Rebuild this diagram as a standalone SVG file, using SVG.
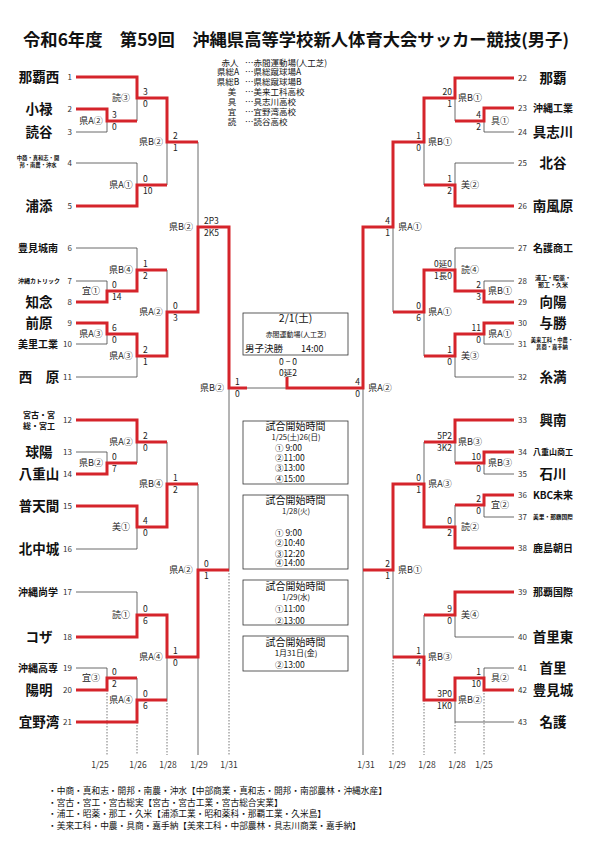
<svg xmlns="http://www.w3.org/2000/svg" width="595" height="841" viewBox="0 0 595 841">
<style>
text{font-family:"Noto Sans CJK JP","Noto Sans",sans-serif;fill:#111}
.th{fill:none;stroke:#444;stroke-width:0.8}
.rd{fill:none;stroke:#d5242b;stroke-width:3;stroke-linejoin:miter}
.dt{fill:none;stroke:#555;stroke-width:0.8;stroke-dasharray:1.5 1.5}
.nb{font-size:13.5px;font-weight:700;text-anchor:middle}
.ns{font-weight:700;text-anchor:middle}
.nl{font-size:8px;text-anchor:end;fill:#333}
.nr{font-size:8px;fill:#333}
.lb{font-size:9px;text-anchor:middle;fill:#222}
.sl{font-size:8.5px;fill:#222}
.sr{font-size:8.5px;text-anchor:end;fill:#222}
.bx{fill:none;stroke:#333;stroke-width:0.8}
.lg{font-size:8.5px}
.dl{font-size:8.5px;text-anchor:middle;fill:#333}
.nt{font-size:8.7px}
.bt{text-anchor:middle}
.tm{font-size:8.5px}
</style>
<rect width="595" height="841" fill="#fff"/>
<text x="23" y="45.5" font-size="17" font-weight="700" textLength="546" lengthAdjust="spacingAndGlyphs">令和6年度　第59回　沖縄県高等学校新人体育大会サッカー競技(男子)</text>

<g id="legend" class="lg">
<text x="230" y="65.5" text-anchor="middle">赤人</text><text x="245" y="65.5">…赤間運動場(人工芝)</text>
<text x="228" y="75" text-anchor="middle">県総A</text><text x="245" y="75">…県総蹴球場A</text>
<text x="228" y="85" text-anchor="middle">県総B</text><text x="245" y="85">…県総蹴球場B</text>
<text x="232" y="95" text-anchor="middle" fill="#444">美</text><text x="245" y="95" fill="#444">…美来工科高校</text>
<text x="232" y="105" text-anchor="middle" fill="#444">具</text><text x="245" y="105" fill="#444">…具志川高校</text>
<text x="232" y="115" text-anchor="middle" fill="#444">宜</text><text x="245" y="115" fill="#444">…宜野湾高校</text>
<text x="232" y="125" text-anchor="middle" fill="#444">読</text><text x="245" y="125" fill="#444">…読谷高校</text>
</g>

<g id="connectors">
<path class="th" d="M76 77H137M76 109H107M76 132H107M76 163H137M76 206H137M76 248H137M76 281H107M76 302H107M76 323H107M76 344H107M76 377H137M76 420H137M76 452H107M76 474H107M76 506H137M76 549H137M76 592H137M76 637H137M76 668H107M76 690H107M76 722H137
M107 109V132M107 121H137M137 77V121M137 98H167M137 163V206M137 185H167M167 98V185M167 142H198
M107 281V302M107 291H137M137 248V291M137 270H167M107 323V344M107 334H137M137 334V377M137 356H167M167 270V356M167 312H198M198 142V312M198 227H229
M107 452V474M107 463H137M137 420V463M137 442H167M137 506V549M137 527H167M167 442V527M167 484H198
M137 592V637M137 615H167M107 668V690M107 678H137M137 678V722M137 700H167M167 615V700M167 657H198M198 484V657M198 570H229
M229 227V570M229 388H363M198 657V755"/>
<path class="th" d="M514 78H455M514 108H484M514 132H484M514 163H455M514 206H455M514 248H455M514 281H484M514 302H484M514 323H484M514 344H484M514 377H455M514 420H455M514 452H484M514 474H484M514 495H484M514 517H484M514 548H455M514 592H455M514 637H455M514 668H484M514 690H484M514 722H455
M484 108V132M484 121H455M455 78V121M455 98H424M455 163V206M455 185H424M424 98V185M424 142H393
M484 281V302M484 291H455M455 248V291M455 270H424M484 323V344M484 334H455M455 334V377M455 356H424M424 270V356M424 312H393M393 142V312M393 227H363
M484 452V474M484 463H455M455 420V463M455 442H424M484 495V517M484 505H455M455 505V548M455 527H424M424 442V527M424 484H393
M455 592V637M455 615H424M484 668V690M484 678H455M455 678V722M455 700H424M424 615V700M424 657H393M393 484V657M393 570H363
M363 227V570M363 570V755"/>
<path class="dt" d="M107 690V755M137 722V755M167 700V755M229 570V755M393 657V755M424 700V755M455 722V755M484 690V755"/>
<path class="rd" d="M76 77H137V98H167V142H198
M76 109H107V121H137
M76 206H137V185H167
M76 302H107V291H137V270H167
M76 323H107V334H137V356H167V312H198V227H229V388H247
M76 420H137V442H167
M76 474H107V463H137
M76 506H137V527H167V484H198
M76 637H137V615H167V657H198V570H229
M76 690H107V678H137
M76 722H137V700H167"/>
<path class="rd" d="M514 78H455V98H424V142H393V227H363V388H287V377
M514 108H484V121H455
M514 206H455V185H424
M514 302H484V291H455V270H424V312H393
M514 323H484V334H455V356H424
M514 420H455V442H424
M514 452H484V463H455
M514 495H484V505H455
M514 548H455V527H424V484H393V570H363
M514 592H455V615H424
M514 690H484V678H455V700H424V657H393"/>
</g>

<g id="teams-left">
<g id="team-1"><text class="nb" x="39" y="82">那覇西</text><text class="nl" x="72" y="80">1</text></g>
<g id="team-2"><text class="nb" x="39" y="114">小禄</text><text class="nl" x="72" y="112">2</text></g>
<g id="team-3"><text class="nb" x="39" y="137">読谷</text><text class="nl" x="72" y="135">3</text></g>
<g id="team-4"><text class="ns" x="38" y="160" font-size="5.3">中商・真和志・開</text><text class="ns" x="38" y="167" font-size="5.3">邦・南農・沖水</text><text class="nl" x="72" y="166">4</text></g>
<g id="team-5"><text class="nb" x="39" y="211">浦添</text><text class="nl" x="72" y="209">5</text></g>
<g id="team-6"><text class="ns" x="38" y="251.5" font-size="10">豊見城南</text><text class="nl" x="72" y="251">6</text></g>
<g id="team-7"><text class="ns" x="39" y="283" font-size="6">沖縄カトリック</text><text class="nl" x="72" y="284">7</text></g>
<g id="team-8"><text class="nb" x="39" y="307">知念</text><text class="nl" x="72" y="305">8</text></g>
<g id="team-9"><text class="nb" x="39" y="328">前原</text><text class="nl" x="72" y="326">9</text></g>
<g id="team-10"><text class="ns" x="38" y="347.5" font-size="10">美里工業</text><text class="nl" x="72" y="347">10</text></g>
<g id="team-11"><text class="nb" x="39" y="382">西　原</text><text class="nl" x="72" y="380">11</text></g>
<g id="team-12"><text class="ns" x="39" y="418" font-size="8">宮古・宮</text><text class="ns" x="39" y="429" font-size="8">総・宮工</text><text class="nl" x="72" y="423">12</text></g>
<g id="team-13"><text class="nb" x="39" y="457">球陽</text><text class="nl" x="72" y="455">13</text></g>
<g id="team-14"><text class="nb" x="39" y="479">八重山</text><text class="nl" x="72" y="477">14</text></g>
<g id="team-15"><text class="nb" x="39" y="511">普天間</text><text class="nl" x="72" y="509">15</text></g>
<g id="team-16"><text class="nb" x="39" y="554">北中城</text><text class="nl" x="72" y="552">16</text></g>
<g id="team-17"><text class="ns" x="38" y="595.5" font-size="10">沖縄尚学</text><text class="nl" x="72" y="595">17</text></g>
<g id="team-18"><text class="nb" x="39" y="642">コザ</text><text class="nl" x="72" y="640">18</text></g>
<g id="team-19"><text class="ns" x="38" y="671.5" font-size="10">沖縄高専</text><text class="nl" x="72" y="671">19</text></g>
<g id="team-20"><text class="nb" x="39" y="695">陽明</text><text class="nl" x="72" y="693">20</text></g>
<g id="team-21"><text class="nb" x="39" y="727">宜野湾</text><text class="nl" x="72" y="725">21</text></g>
</g>

<g id="teams-right">
<g id="team-22"><text class="nb" x="553" y="83">那覇</text><text class="nr" x="518" y="81">22</text></g>
<g id="team-23"><text class="ns" x="553" y="111.5" font-size="10">沖縄工業</text><text class="nr" x="518" y="111">23</text></g>
<g id="team-24"><text class="nb" x="553" y="137">具志川</text><text class="nr" x="518" y="135">24</text></g>
<g id="team-25"><text class="nb" x="553" y="168">北谷</text><text class="nr" x="518" y="166">25</text></g>
<g id="team-26"><text class="nb" x="553" y="211">南風原</text><text class="nr" x="518" y="209">26</text></g>
<g id="team-27"><text class="ns" x="553" y="251.5" font-size="10">名護商工</text><text class="nr" x="518" y="251">27</text></g>
<g id="team-28"><text class="ns" x="553" y="280" font-size="6">浦工・昭薬・</text><text class="ns" x="553" y="287" font-size="6">那工・久米</text><text class="nr" x="518" y="284">28</text></g>
<g id="team-29"><text class="nb" x="553" y="307">向陽</text><text class="nr" x="518" y="305">29</text></g>
<g id="team-30"><text class="nb" x="553" y="328">与勝</text><text class="nr" x="518" y="326">30</text></g>
<g id="team-31"><text class="ns" x="552" y="342" font-size="5.3">美来工科・中農・</text><text class="ns" x="552" y="349" font-size="5.3">具商・嘉手納</text><text class="nr" x="518" y="347">31</text></g>
<g id="team-32"><text class="nb" x="553" y="382">糸満</text><text class="nr" x="518" y="380">32</text></g>
<g id="team-33"><text class="nb" x="553" y="425">興南</text><text class="nr" x="518" y="423">33</text></g>
<g id="team-34"><text class="ns" x="553" y="455" font-size="8">八重山商工</text><text class="nr" x="518" y="455">34</text></g>
<g id="team-35"><text class="nb" x="553" y="479">石川</text><text class="nr" x="518" y="477">35</text></g>
<g id="team-36"><text class="ns" x="553" y="498.5" font-size="10">KBC未来</text><text class="nr" x="518" y="498">36</text></g>
<g id="team-37"><text class="ns" x="553" y="519" font-size="5.7">美里・那覇国際</text><text class="nr" x="518" y="520">37</text></g>
<g id="team-38"><text class="ns" x="553" y="551.5" font-size="10">鹿島朝日</text><text class="nr" x="518" y="551">38</text></g>
<g id="team-39"><text class="ns" x="553" y="595.5" font-size="10">那覇国際</text><text class="nr" x="518" y="595">39</text></g>
<g id="team-40"><text class="nb" x="553" y="642">首里東</text><text class="nr" x="518" y="640">40</text></g>
<g id="team-41"><text class="nb" x="553" y="673">首里</text><text class="nr" x="518" y="671">41</text></g>
<g id="team-42"><text class="nb" x="553" y="695">豊見城</text><text class="nr" x="518" y="693">42</text></g>
<g id="team-43"><text class="nb" x="553" y="727">名護</text><text class="nr" x="518" y="725">43</text></g>
</g>

<g id="matches-left">
<g id="mL1"><text class="lb" x="91" y="124">県A②</text><text class="sl" x="112" y="118">3</text><text class="sl" x="112" y="130">0</text></g>
<g id="mL2"><text class="lb" x="121" y="101">読③</text><text class="sl" x="143" y="95">3</text><text class="sl" x="143" y="107">0</text></g>
<g id="mL3"><text class="lb" x="121" y="188">県A①</text><text class="sl" x="143" y="182">0</text><text class="sl" x="143" y="194">10</text></g>
<g id="mL4"><text class="lb" x="151" y="145">県B②</text><text class="sl" x="173" y="139">2</text><text class="sl" x="173" y="151">1</text></g>
<g id="mL5"><text class="lb" x="91" y="294">宜①</text><text class="sl" x="112" y="288">0</text><text class="sl" x="112" y="300">14</text></g>
<g id="mL6"><text class="lb" x="121" y="273">県B④</text><text class="sl" x="143" y="267">1</text><text class="sl" x="143" y="279">2</text></g>
<g id="mL7"><text class="lb" x="91" y="337">県A③</text><text class="sl" x="112" y="331">6</text><text class="sl" x="112" y="343">0</text></g>
<g id="mL8"><text class="lb" x="121" y="359">県A③</text><text class="sl" x="143" y="353">2</text><text class="sl" x="143" y="365">1</text></g>
<g id="mL9"><text class="lb" x="151" y="315">県A②</text><text class="sl" x="173" y="309">0</text><text class="sl" x="173" y="321">3</text></g>
<g id="mL10"><text class="lb" x="181" y="230">県B②</text><text class="sl" x="204" y="224">2P3</text><text class="sl" x="204" y="236">2K5</text></g>
<g id="mL11"><text class="lb" x="91" y="466">県B②</text><text class="sl" x="112" y="460">0</text><text class="sl" x="112" y="472">7</text></g>
<g id="mL12"><text class="lb" x="121" y="445">県A②</text><text class="sl" x="143" y="439">2</text><text class="sl" x="143" y="451">0</text></g>
<g id="mL13"><text class="lb" x="121" y="530">美①</text><text class="sl" x="143" y="524">4</text><text class="sl" x="143" y="536">0</text></g>
<g id="mL14"><text class="lb" x="151" y="487">県B④</text><text class="sl" x="173" y="481">1</text><text class="sl" x="173" y="493">2</text></g>
<g id="mL15"><text class="lb" x="121" y="618">読①</text><text class="sl" x="143" y="612">0</text><text class="sl" x="143" y="624">6</text></g>
<g id="mL16"><text class="lb" x="91" y="681">宜③</text><text class="sl" x="112" y="675">0</text><text class="sl" x="112" y="687">2</text></g>
<g id="mL17"><text class="lb" x="121" y="703">県A④</text><text class="sl" x="143" y="697">0</text><text class="sl" x="143" y="709">6</text></g>
<g id="mL18"><text class="lb" x="151" y="660">県A④</text><text class="sl" x="173" y="654">1</text><text class="sl" x="173" y="666">0</text></g>
<g id="mL19"><text class="lb" x="181" y="573">県A②</text><text class="sl" x="204" y="567">0</text><text class="sl" x="204" y="579">1</text></g>
<g id="mL20"><text class="lb" x="212" y="391">県B②</text><text class="sl" x="235" y="385">1</text><text class="sl" x="235" y="397">0</text></g>
</g>

<g id="matches-right">
<g id="mR1"><text class="lb" x="500" y="124">具①</text><text class="sr" x="481" y="118">4</text><text class="sr" x="481" y="130">2</text></g>
<g id="mR2"><text class="lb" x="470" y="101">県B①</text><text class="sr" x="452" y="95">20</text><text class="sr" x="452" y="107">1</text></g>
<g id="mR3"><text class="lb" x="470" y="188">美②</text><text class="sr" x="452" y="182">1</text><text class="sr" x="452" y="194">2</text></g>
<g id="mR4"><text class="lb" x="440" y="145">県B①</text><text class="sr" x="421" y="139">1</text><text class="sr" x="421" y="151">0</text></g>
<g id="mR5"><text class="lb" x="500" y="294">県B①</text><text class="sr" x="481" y="288">2</text><text class="sr" x="481" y="300">3</text></g>
<g id="mR6"><text class="lb" x="470" y="273">読④</text><text class="sr" x="452" y="267">0延0</text><text class="sr" x="452" y="279">1長0</text></g>
<g id="mR7"><text class="lb" x="500" y="337">県A①</text><text class="sr" x="481" y="331">11</text><text class="sr" x="481" y="343">0</text></g>
<g id="mR8"><text class="lb" x="470" y="359">美③</text><text class="sr" x="452" y="353">1</text><text class="sr" x="452" y="365">0</text></g>
<g id="mR9"><text class="lb" x="440" y="315">県A①</text><text class="sr" x="421" y="309">0</text><text class="sr" x="421" y="321">6</text></g>
<g id="mR10"><text class="lb" x="410" y="230">県A①</text><text class="sr" x="390" y="224">4</text><text class="sr" x="390" y="236">1</text></g>
<g id="mR11"><text class="lb" x="500" y="466">県B③</text><text class="sr" x="481" y="460">10</text><text class="sr" x="481" y="472">0</text></g>
<g id="mR12"><text class="lb" x="470" y="445">県B③</text><text class="sr" x="452" y="439">5P2</text><text class="sr" x="452" y="451">3K2</text></g>
<g id="mR13"><text class="lb" x="500" y="508">宜②</text><text class="sr" x="481" y="502">2</text><text class="sr" x="481" y="514">0</text></g>
<g id="mR14"><text class="lb" x="470" y="530">読②</text><text class="sr" x="452" y="524">0</text><text class="sr" x="452" y="536">2</text></g>
<g id="mR15"><text class="lb" x="440" y="487">県A③</text><text class="sr" x="421" y="481">0</text><text class="sr" x="421" y="493">1</text></g>
<g id="mR16"><text class="lb" x="470" y="618">美④</text><text class="sr" x="452" y="612">9</text><text class="sr" x="452" y="624">0</text></g>
<g id="mR17"><text class="lb" x="500" y="681">具②</text><text class="sr" x="481" y="675">1</text><text class="sr" x="481" y="687">10</text></g>
<g id="mR18"><text class="lb" x="470" y="703">県B②</text><text class="sr" x="452" y="697">3P0</text><text class="sr" x="452" y="709">1K0</text></g>
<g id="mR19"><text class="lb" x="440" y="660">県B③</text><text class="sr" x="421" y="654">1</text><text class="sr" x="421" y="666">4</text></g>
<g id="mR20"><text class="lb" x="410" y="573">県B①</text><text class="sr" x="390" y="567">2</text><text class="sr" x="390" y="579">1</text></g>
<g id="mR21"><text class="lb" x="380" y="391">県A②</text><text class="sr" x="360" y="385">4</text><text class="sr" x="360" y="397">0</text></g>
</g>

<g id="final">
<rect class="bx" x="243" y="313" width="105" height="42"/>
<text class="bt" x="295.5" y="321.5" font-size="10.5">2/1(土)</text>
<text class="bt" x="296" y="337" font-size="7">赤間運動場(人工芝)</text>
<text x="245" y="352" font-size="9.5">男子決勝</text><text x="301" y="352" font-size="9">14:00</text>
<text class="bt" x="288" y="365" font-size="8.5">0 − 0</text>
<text class="bt" x="288" y="375.5" font-size="8.5">0延2</text>
</g>

<g id="schedule-1">
<rect class="bx" x="243" y="421" width="105" height="63"/>
<text class="bt" x="295.5" y="430" font-size="10">試合開始時間</text>
<text class="bt" x="296" y="440" font-size="7.5">1/25(土)26(日)</text>
<text class="tm" x="275" y="450.5">① 9:00</text>
<text class="tm" x="275" y="461">②11:00</text>
<text class="tm" x="275" y="471">③13:00</text>
<text class="tm" x="275" y="481.5">④15:00</text>
</g>
<g id="schedule-2">
<rect class="bx" x="243" y="495" width="105" height="74"/>
<text class="bt" x="295.5" y="504" font-size="10">試合開始時間</text>
<text class="bt" x="296" y="514" font-size="7.5">1/28(火)</text>
<text class="tm" x="275" y="535.5">① 9:00</text>
<text class="tm" x="275" y="545.5">②10:40</text>
<text class="tm" x="275" y="557">③12:20</text>
<text class="tm" x="275" y="566">④14:00</text>
</g>
<g id="schedule-3">
<rect class="bx" x="243" y="580" width="105" height="45"/>
<text class="bt" x="295.5" y="589.5" font-size="10">試合開始時間</text>
<text class="bt" x="296" y="600" font-size="7.5">1/29(水)</text>
<text class="tm" x="275" y="612">①11:00</text>
<text class="tm" x="275" y="623.5">②13:00</text>
</g>
<g id="schedule-4">
<rect class="bx" x="243" y="636" width="105" height="35"/>
<text class="bt" x="295.5" y="645.5" font-size="10">試合開始時間</text>
<text class="bt" x="296" y="656" font-size="8">1月31日(金)</text>
<text class="tm" x="275" y="667.5">②13:00</text>
</g>

<g id="dates">
<text class="dl" x="100" y="768">1/25</text>
<text class="dl" x="138" y="768">1/26</text>
<text class="dl" x="168" y="768">1/28</text>
<text class="dl" x="199" y="768">1/29</text>
<text class="dl" x="229" y="768">1/31</text>
<text class="dl" x="366" y="768">1/31</text>
<text class="dl" x="397" y="768">1/29</text>
<text class="dl" x="427" y="768">1/28</text>
<text class="dl" x="457" y="768">1/28</text>
<text class="dl" x="484" y="768">1/25</text>
</g>

<g id="notes" class="nt">
<text x="48" y="794">・中商・真和志・開邦・南農・沖水【中部商業・真和志・開邦・南部農林・沖縄水産】</text>
<text x="48" y="805.5">・宮古・宮工・宮古総実【宮古・宮古工業・宮古総合実業】</text>
<text x="48" y="817">・浦工・昭薬・那工・久米【浦添工業・昭和薬科・那覇工業・久米島】</text>
<text x="48" y="829">・美来工科・中農・具商・嘉手納【美来工科・中部農林・具志川商業・嘉手納】</text>
</g>
</svg>
